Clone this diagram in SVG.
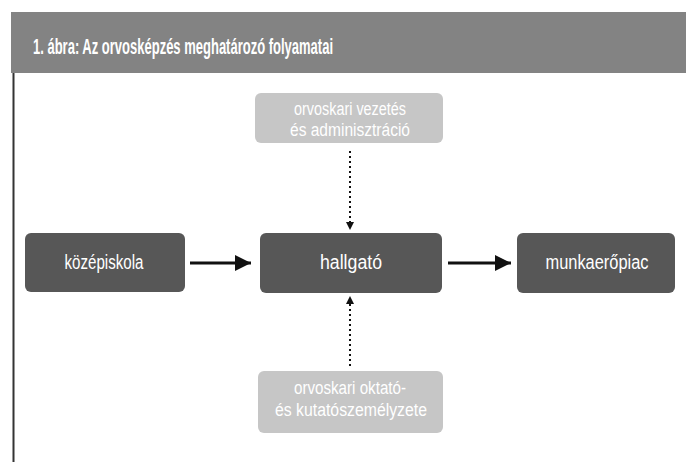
<svg xmlns="http://www.w3.org/2000/svg" width="686" height="462" viewBox="0 0 686 462">
<defs>
<style>
.hdr{fill:#838383}
.dark{fill:#575757}
.light{fill:#c6c6c6}
text{font-family:"Liberation Sans","Noto Sans",sans-serif;fill:#ffffff;text-anchor:middle}
.t{font-size:20px}
.h{font-size:22px;font-weight:bold;text-anchor:start}
.lt{font-size:18px}
.conn{stroke:#111;stroke-width:3;fill:none}
.dot{stroke:#111;stroke-width:2;stroke-dasharray:2 3;fill:none}
</style>
<marker id="ah" viewBox="0 0 10 10" refX="10" refY="5" markerWidth="5.5" markerHeight="5.5" orient="auto" markerUnits="strokeWidth">
<path d="M0,0 L10,5 L0,10 z" fill="#111"/>
</marker>
<marker id="ah2" viewBox="0 0 10 10" refX="10" refY="5" markerWidth="4" markerHeight="4" orient="auto" markerUnits="strokeWidth">
<path d="M0,0 L10,5 L0,10 z" fill="#111"/>
</marker>
</defs>
<rect width="686" height="462" fill="#fff"/>
<g id="header">
<rect class="hdr" x="11" y="12" width="675" height="61"/>
<text class="h" x="33" y="54" textLength="300" lengthAdjust="spacingAndGlyphs">1. ábra: Az orvosképzés meghatározó folyamatai</text>
</g>
<line x1="13.5" y1="73" x2="13.5" y2="462" stroke="#333" stroke-width="2"/>
<g id="connectors">
<line class="conn" x1="190" y1="263" x2="251" y2="263" marker-end="url(#ah)"/>
<line class="conn" x1="448" y1="263" x2="511" y2="263" marker-end="url(#ah)"/>
<line class="dot" x1="350" y1="151" x2="350" y2="230" marker-end="url(#ah2)"/>
<line class="dot" x1="350" y1="366" x2="350" y2="296" marker-end="url(#ah2)"/>
</g>
<g id="kozepiskola">
<rect class="dark" x="25" y="233" width="160" height="59" rx="6"/>
<text class="t" x="104" y="269" textLength="79" lengthAdjust="spacingAndGlyphs">középiskola</text>
</g>
<g id="hallgato">
<rect class="dark" x="260" y="233" width="182" height="60" rx="6"/>
<text class="t" x="351" y="269" textLength="62" lengthAdjust="spacingAndGlyphs">hallgató</text>
</g>
<g id="munkaeropiac">
<rect class="dark" x="517" y="233" width="158" height="60" rx="6"/>
<text class="t" x="597" y="269" textLength="103" lengthAdjust="spacingAndGlyphs">munkaerőpiac</text>
</g>
<g id="vezetes">
<rect class="light" x="255" y="93" width="188" height="50" rx="6"/>
<text class="lt" x="350" y="115" textLength="112" lengthAdjust="spacingAndGlyphs">orvoskari vezetés</text>
<text class="lt" x="350" y="136" textLength="120" lengthAdjust="spacingAndGlyphs">és adminisztráció</text>
</g>
<g id="szemelyzet">
<rect class="light" x="258" y="371" width="185" height="62" rx="6"/>
<text class="lt" x="350" y="394" textLength="112" lengthAdjust="spacingAndGlyphs">orvoskari oktató-</text>
<text class="lt" x="351" y="416" textLength="152" lengthAdjust="spacingAndGlyphs">és kutatószemélyzete</text>
</g>
</svg>
